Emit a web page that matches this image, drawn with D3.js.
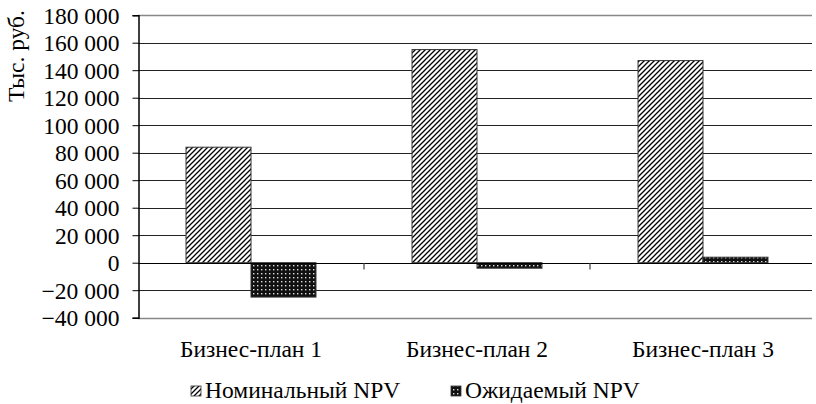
<!DOCTYPE html>
<html><head><meta charset="utf-8">
<script src="https://cdn.jsdelivr.net/npm/d3@7"></script>
</head><body style="margin:0"><svg id="c" width="816" height="404" font-family="Liberation Serif"></svg>
<script>
const categories = ["Бизнес-план 1", "Бизнес-план 2", "Бизнес-план 3"];
const seriesNames = ["Номинальный NPV", "Ожидаемый NPV"];
const nominal = [84000, 155000, 147000];
const expected = [-25000, -4000, 4000];
const yTicks = [-40000, -20000, 0, 20000, 40000, 60000, 80000, 100000, 120000, 140000, 160000, 180000];
const yLabel = "Тыс. руб.";

const FONT = "Liberation Serif";
const FS = 23.5;
const svg = d3.select("#c");
const L = 138, R = 816, T = 15.2, B = 317.7;
const y = d3.scaleLinear().domain([-40000, 180000]).range([B, T]);
const x = d3.scaleBand().domain(categories).range([L, R]).paddingInner(0.425).paddingOuter(0.2125);
const xs = d3.scaleBand().domain(seriesNames).range([0, x.bandwidth()]);

const defs = svg.append("defs");
const p1 = defs.append("pattern").attr("id","hatch").attr("patternUnits","userSpaceOnUse").attr("width",5).attr("height",5);
p1.append("rect").attr("width",5).attr("height",5).attr("fill","#fff");
p1.append("path").attr("d","M-1,1 L1,-1 M0,5 L5,0 M4,6 L6,4").attr("stroke","#000").attr("stroke-width",1.3);
const p2 = defs.append("pattern").attr("id","dots").attr("patternUnits","userSpaceOnUse").attr("width",4).attr("height",4);
p2.append("rect").attr("width",4).attr("height",4).attr("fill","#111");
p2.append("rect").attr("x",1).attr("y",1).attr("width",1.4).attr("height",1.4).attr("fill","#ddd");
const fills = ["url(#hatch)", "url(#dots)"];

const fmt = v => d3.format(",")(v).replace(/,/g, " ");

// gridlines
svg.append("g").selectAll("line").data(yTicks.filter(v => v !== 0)).join("line")
  .attr("x1", L).attr("x2", R - 4).attr("y1", d => Math.round(y(d)) + 0.5).attr("y2", d => Math.round(y(d)) + 0.5)
  .attr("stroke", d => (d === 180000 || d === -40000) ? "#888" : "#222").attr("stroke-width", d => (d === 180000 || d === -40000) ? 1.5 : 1);

// y axis
const ya = svg.append("g").attr("transform", `translate(${L + 0.5},0)`)
  .call(d3.axisLeft(y).tickValues(yTicks).tickFormat(fmt).tickSize(6).tickPadding(13));
ya.attr("font-family", FONT).attr("font-size", FS);
ya.select(".domain").attr("stroke", "#000").attr("stroke-width", 1.5);
ya.selectAll(".tick line").attr("stroke", "#000");
ya.selectAll(".tick text").attr("font-family", FONT).attr("font-size", FS).attr("fill", "#000").attr("dy", "0.34em");

// bars
const data = categories.map((c, i) => ({ c, vals: [nominal[i], expected[i]] }));
const g = svg.append("g");
data.forEach(d => {
  d.vals.forEach((v, j) => {
    g.append("rect")
      .attr("x", x(d.c) + xs(seriesNames[j]))
      .attr("width", xs.bandwidth())
      .attr("y", y(Math.max(0, v)))
      .attr("height", Math.abs(y(v) - y(0)))
      .attr("fill", fills[j]).attr("stroke", "#333").attr("stroke-width", 1);
  });
});

// zero axis
const xa = svg.append("g").attr("transform", `translate(0,${Math.round(y(0)) + 0.5})`);
xa.append("line").attr("x1", L).attr("x2", R - 4).attr("stroke", "#000").attr("stroke-width", 1);
const bounds = d3.range(1, categories.length).map(i => L + i * (R - L) / categories.length);
xa.selectAll("line.t").data(bounds).join("line").attr("class","t")
  .attr("x1", d => d).attr("x2", d => d).attr("y1", 0).attr("y2", 6).attr("stroke", "#666").attr("stroke-width", 1.5);

// category labels
svg.append("g").selectAll("text").data(categories).join("text")
  .attr("x", d => x(d) + x.bandwidth() / 2).attr("y", 357).attr("text-anchor", "middle")
  .attr("font-family", FONT).attr("font-size", FS).text(d => d);

// y label
svg.append("text").attr("transform", "translate(24,56) rotate(-90)").attr("text-anchor", "middle")
  .attr("font-family", FONT).attr("font-size", FS).text(yLabel);

// legend
const legX = [191, 451];
const lg = svg.append("g");
seriesNames.forEach((s, j) => {
  lg.append("rect").attr("x", legX[j]).attr("y", 386).attr("width", 10).attr("height", 10)
    .attr("fill", fills[j]).attr("stroke", "#333").attr("stroke-width", 0.8);
  lg.append("text").attr("x", legX[j] + 14).attr("y", 398)
    .attr("font-family", FONT).attr("font-size", FS).text(s);
});
</script></body></html>
